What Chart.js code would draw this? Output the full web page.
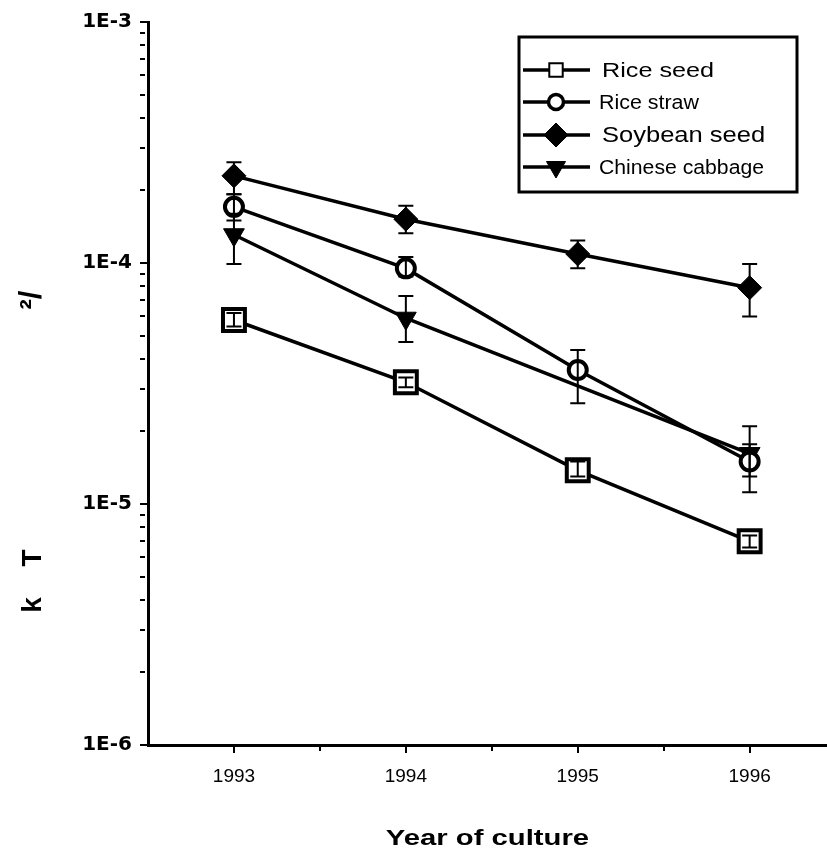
<!DOCTYPE html>
<html>
<head>
<meta charset="utf-8">
<script src="https://cdn.jsdelivr.net/npm/chart.js@4.4.0/dist/chart.umd.min.js"></script>
<style>
body { margin: 0; background: #fff; }
</style>
</head>
<body>
<canvas id="chart" width="827" height="852"></canvas>
<script>
// Data
const years = [1993, 1994, 1995, 1996];
const seriesNames = ['Rice seed', 'Rice straw', 'Soybean seed', 'Chinese cabbage'];

const riceSeed = [5.8e-5, 3.2e-5, 1.38e-5, 7.0e-6];
const riceSeedLow = [5.45e-5, 3.05e-5, 1.3e-5, 6.6e-6];
const riceSeedHigh = [6.2e-5, 3.35e-5, 1.5e-5, 7.4e-6];

const riceStraw = [1.71e-4, 9.5e-5, 3.6e-5, 1.5e-5];
const riceStrawLow = [1.5e-4, 8.8e-5, 2.62e-5, 1.12e-5];
const riceStrawHigh = [1.93e-4, 1.06e-4, 4.35e-5, 2.1e-5];

const soybeanSeed = [2.3e-4, 1.52e-4, 1.09e-4, 7.9e-5];
const soybeanSeedLow = [1.93e-4, 1.33e-4, 9.5e-5, 6.0e-5];
const soybeanSeedHigh = [2.62e-4, 1.73e-4, 1.24e-4, 9.9e-5];

const cabbage = [1.31e-4, 5.9e-5, null, 1.62e-5];
const cabbageLow = [9.9e-5, 4.7e-5, null, 1.3e-5];
const cabbageHigh = [1.6e-4, 7.3e-5, null, 1.77e-5];

const yTickLabels = ['1E-6', '1E-5', '1E-4', '1E-3'];
const xTickValues = [1993, 1993.5, 1994, 1994.5, 1995, 1995.5, 1996];
const xTitle = 'Year of culture';

// Minor log ticks 1..9 in each decade
const yTickValues = [];
for (let e = -6; e < -3; e++) {
  for (let m = 1; m < 10; m++) yTickValues.push(m * Math.pow(10, e));
}
yTickValues.push(1e-3);

const isDecade = v => Math.abs(Math.log10(v) - Math.round(Math.log10(v))) < 1e-6;

const toPoints = vals => years.map((x, i) => ({ x: x, y: vals[i] }));

function makeSet(label, vals, lo, hi, style, radius, rotation, fill, bw) {
  return {
    label: label,
    data: toPoints(vals),
    errLow: lo,
    errHigh: hi,
    borderColor: '#000',
    borderWidth: 3.5,
    pointStyle: style,
    pointRadius: radius,
    pointRotation: rotation,
    pointBackgroundColor: fill,
    pointBorderColor: '#000',
    pointBorderWidth: bw,
    spanGaps: true,
    tension: 0
  };
}

const datasets = [
  makeSet(seriesNames[0], riceSeed, riceSeedLow, riceSeedHigh, 'rect', 15.5, 0, '#fff', 4),
  makeSet(seriesNames[1], riceStraw, riceStrawLow, riceStrawHigh, 'circle', 9, 0, '#fff', 4),
  makeSet(seriesNames[2], soybeanSeed, soybeanSeedLow, soybeanSeedHigh, 'rectRot', 12, 0, '#000', 1),
  makeSet(seriesNames[3], cabbage, cabbageLow, cabbageHigh, 'triangle', 12, 180, '#000', 1)
];

// Error bars drawn on top of the markers
const errorBars = {
  id: 'errorBars',
  afterDatasetsDraw(chart) {
    const { ctx, scales: { x, y } } = chart;
    ctx.save();
    ctx.strokeStyle = '#000';
    ctx.lineWidth = 2;
    chart.data.datasets.forEach(ds => {
      ds.errLow.forEach((lo, i) => {
        if (lo == null) return;
        const px = x.getPixelForValue(years[i]);
        const pl = y.getPixelForValue(lo);
        const ph = y.getPixelForValue(ds.errHigh[i]);
        ctx.beginPath();
        ctx.moveTo(px, pl); ctx.lineTo(px, ph);
        ctx.moveTo(px - 7.5, pl); ctx.lineTo(px + 7.5, pl);
        ctx.moveTo(px - 7.5, ph); ctx.lineTo(px + 7.5, ph);
        ctx.stroke();
      });
    });
    ctx.restore();
  }
};

// Boxed legend with line + marker; the original text is a little stretched
const legendSizes = [
  { radius: 9.5, bw: 2, size: 21, stretch: 1.2, textX: 602 },
  { radius: 7.5, bw: 3.5, size: 20, stretch: 1.07, textX: 599 },
  { radius: 12, bw: 1, size: 22, stretch: 1.16, textX: 602 },
  { radius: 11, bw: 1, size: 20, stretch: 1.06, textX: 599 }
];
const legendRows = [70, 102, 135, 167];

function stretchedText(ctx, text, x, y, sx) {
  ctx.save();
  ctx.translate(x, y);
  ctx.scale(sx, 1);
  ctx.fillText(text, 0, 0);
  ctx.restore();
}

const extras = {
  id: 'extras',
  afterDraw(chart) {
    const ctx = chart.ctx;
    ctx.save();
    ctx.strokeStyle = '#000';
    ctx.lineWidth = 3;
    ctx.strokeRect(519, 37, 278, 155);

    chart.data.datasets.forEach((ds, i) => {
      const ly = legendRows[i];
      const s = legendSizes[i];
      ctx.strokeStyle = '#000';
      ctx.lineWidth = 3.5;
      ctx.beginPath();
      ctx.moveTo(523, ly); ctx.lineTo(590, ly);
      ctx.stroke();
      ctx.fillStyle = ds.pointBackgroundColor;
      ctx.lineWidth = s.bw;
      Chart.helpers.drawPoint(ctx, {
        pointStyle: ds.pointStyle, radius: s.radius,
        rotation: ds.pointRotation, borderWidth: s.bw
      }, 556, ly);
      ctx.fillStyle = '#000';
      ctx.font = s.size + 'px "Liberation Sans"';
      ctx.textAlign = 'left';
      ctx.textBaseline = 'middle';
      stretchedText(ctx, ds.label, s.textX, ly + 1, s.stretch);
    });

    // x-axis title
    const area = chart.chartArea;
    ctx.fillStyle = '#000';
    ctx.font = 'bold 22px "Liberation Sans"';
    ctx.textAlign = 'center';
    ctx.textBaseline = 'alphabetic';
    stretchedText(ctx, xTitle, (area.left + area.right) / 2, 845, 1.33);

    // y-axis label pieces, rotated
    ctx.font = 'bold 28px "Liberation Sans"';
    ctx.translate(41, 0);
    ctx.rotate(-Math.PI / 2);
    ctx.fillText('k', -605, 0);
    ctx.fillText('T', -558, 0);
    ctx.font = 'bold 31px "Liberation Sans"';
    ctx.fillText('\u00B2/', -300, 0);
    ctx.restore();
  }
};

new Chart(document.getElementById('chart'), {
  type: 'line',
  data: { datasets: datasets },
  plugins: [errorBars, extras],
  options: {
    responsive: false,
    animation: false,
    devicePixelRatio: 1,
    layout: { autoPadding: false, padding: { top: 22, right: 0, left: 0, bottom: 0 } },
    plugins: { legend: { display: false }, tooltip: { enabled: false } },
    scales: {
      x: {
        type: 'linear',
        min: 1992.5,
        max: 1996.45,
        afterFit: s => { s.height = 107; },
        afterBuildTicks: s => { s.ticks = xTickValues.map(v => ({ value: v })); },
        border: { color: '#000', width: 3 },
        grid: {
          drawOnChartArea: false, color: '#000', lineWidth: 2, tickLength: 8,
          // half-year ticks are shorter
          tickBorderDash: c => (c.tick && !Number.isInteger(c.tick.value)) ? [4, 40] : []
        },
        ticks: {
          autoSkip: false,
          maxRotation: 0,
          padding: 12,
          color: '#000',
          font: { family: '"Liberation Sans"', size: 19 },
          callback: v => Number.isInteger(v) ? String(v) : ''
        }
      },
      y: {
        type: 'logarithmic',
        min: 1e-6,
        max: 1e-3,
        afterFit: s => { s.width = 148; },
        afterBuildTicks: s => { s.ticks = yTickValues.map(v => ({ value: v })); },
        border: { color: '#000', width: 3 },
        grid: {
          drawOnChartArea: false, color: '#000', lineWidth: 2, tickLength: 8,
          tickBorderDash: c => (c.tick && !isDecade(c.tick.value)) ? [5, 40] : []
        },
        ticks: {
          autoSkip: false,
          padding: 8,
          color: '#000',
          font: { family: '"DejaVu Sans"', size: 20, weight: 'bold' },
          callback: v => isDecade(v) ? yTickLabels[Math.round(Math.log10(v)) + 6] : ''
        }
      }
    }
  }
});
</script>
</body>
</html>
